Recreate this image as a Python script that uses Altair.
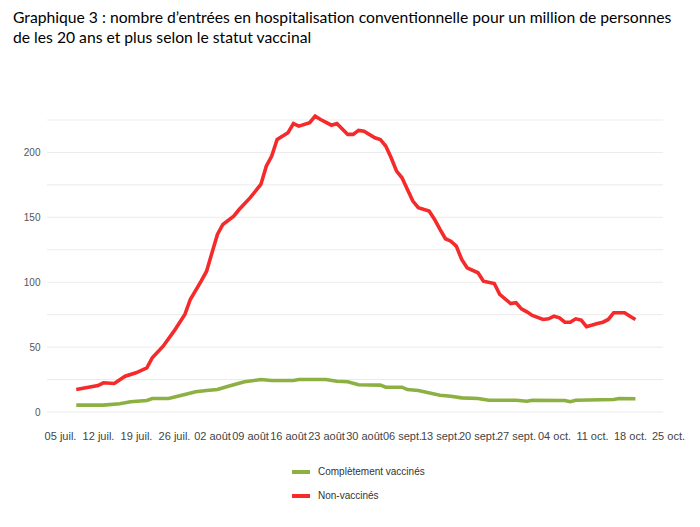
import altair as alt
import pandas as pd

# ---- data ----
red_dates = ["2021-07-08", "2021-07-12", "2021-07-13", "2021-07-15", "2021-07-17", "2021-07-19",
             "2021-07-21", "2021-07-22", "2021-07-24", "2021-07-26", "2021-07-28", "2021-07-29",
             "2021-07-31", "2021-08-01", "2021-08-02", "2021-08-03", "2021-08-04", "2021-08-06",
             "2021-08-07", "2021-08-09", "2021-08-11", "2021-08-12", "2021-08-13", "2021-08-14",
             "2021-08-16", "2021-08-17", "2021-08-18", "2021-08-20", "2021-08-21", "2021-08-22",
             "2021-08-24", "2021-08-25", "2021-08-27", "2021-08-28", "2021-08-29", "2021-08-30",
             "2021-09-01", "2021-09-02", "2021-09-03", "2021-09-04", "2021-09-05", "2021-09-06",
             "2021-09-07", "2021-09-08", "2021-09-09", "2021-09-11", "2021-09-12", "2021-09-13",
             "2021-09-14", "2021-09-15", "2021-09-16", "2021-09-17", "2021-09-18", "2021-09-20",
             "2021-09-21", "2021-09-23", "2021-09-24", "2021-09-26", "2021-09-27", "2021-09-28",
             "2021-09-29", "2021-09-30", "2021-10-02", "2021-10-03", "2021-10-04", "2021-10-05",
             "2021-10-06", "2021-10-07", "2021-10-08", "2021-10-09", "2021-10-10", "2021-10-12",
             "2021-10-13", "2021-10-14", "2021-10-15", "2021-10-17", "2021-10-18", "2021-10-19"]
red_values = [17.3, 20.4, 22.5, 22.0, 27.6, 30.2,
              34.0, 41.8, 50.7, 62.3, 75.1, 86.7,
              100.8, 108.5, 122.7, 136.8, 144.5, 150.9,
              156.0, 165.0, 175.3, 189.4, 197.2, 210.0,
              215.2, 222.3, 220.3, 222.9, 228.0, 225.4,
              221.0, 222.3, 213.9, 213.9, 217.0, 216.4,
              211.3, 210.0, 204.9, 195.9, 185.6, 180.5,
              171.5, 162.5, 157.4, 154.8, 148.4, 140.7,
              133.5, 131.6, 127.8, 117.5, 111.1, 107.3,
              100.8, 99.0, 90.6, 83.6, 84.2, 79.5,
              77.2, 74.4, 71.3, 71.8, 73.8, 72.6,
              69.2, 69.2, 71.8, 70.8, 65.7, 68.2,
              69.2, 71.3, 76.5, 76.5, 73.8, 71.3]

green_dates = ["2021-07-08", "2021-07-13", "2021-07-16", "2021-07-18", "2021-07-21", "2021-07-22",
               "2021-07-25", "2021-07-28", "2021-07-30", "2021-08-01", "2021-08-03", "2021-08-05",
               "2021-08-08", "2021-08-11", "2021-08-13", "2021-08-17", "2021-08-18", "2021-08-23",
               "2021-08-25", "2021-08-27", "2021-08-29", "2021-09-02", "2021-09-03", "2021-09-06",
               "2021-09-07", "2021-09-09", "2021-09-13", "2021-09-15", "2021-09-17", "2021-09-20",
               "2021-09-22", "2021-09-27", "2021-09-29", "2021-09-30", "2021-10-06", "2021-10-07",
               "2021-10-08", "2021-10-15", "2021-10-16", "2021-10-19"]
green_values = [5.3, 5.3, 6.3, 7.9, 8.9, 10.4,
                10.4, 13.5, 15.6, 16.6, 17.3, 19.9,
                23.3, 25.0, 24.3, 24.3, 25.0, 25.0,
                23.7, 23.3, 21.0, 20.7, 19.1, 19.1,
                17.3, 16.6, 12.9, 12.2, 10.9, 10.4,
                9.1, 9.1, 8.3, 9.1, 8.9, 7.9,
                9.1, 9.6, 10.4, 10.2]

series_names = ["Complètement vaccinés", "Non-vaccinés"]
series_colors = ["#8DB043", "#F52A2A"]

tick_dates = ["2021-07-05", "2021-07-12", "2021-07-19", "2021-07-26", "2021-08-02", "2021-08-09",
              "2021-08-16", "2021-08-23", "2021-08-30", "2021-09-06", "2021-09-13", "2021-09-20",
              "2021-09-27", "2021-10-04", "2021-10-11", "2021-10-18", "2021-10-25"]
month_abbr = ["janv.", "févr.", "mars", "avr.", "mai", "juin", "juil.", "août", "sept.",
              "oct.", "nov.", "déc."]

y_grid = [0, 25, 50, 75, 100, 125, 150, 175, 200, 225]

title_lines = [
    "Graphique 3 : nombre d\u2019entrées en hospitalisation conventionnelle pour un million de personnes",
    "de les 20 ans et plus selon le statut vaccinal",
]

# ---- build tables ----
df = pd.concat([
    pd.DataFrame({"date": green_dates, "valeur": green_values, "statut": series_names[0]}),
    pd.DataFrame({"date": red_dates, "valeur": red_values, "statut": series_names[1]}),
])
grid_df = pd.DataFrame({"valeur": y_grid})


def dt(s, hours=0, minutes=0):
    t = pd.Timestamp(s)
    return alt.DateTime(year=t.year, month=t.month, date=t.day, hours=hours,
                        minutes=minutes, utc=True)


tick_values = [dt(s) for s in tick_dates]
months_js = "[" + ",".join("'" + m + "'" for m in month_abbr) + "]"
x_label_expr = "utcFormat(datum.value, '%d') + ' ' + " + months_js + "[utcmonth(datum.value)]"

W, H = 624, 292
GRID_W = 616

y_enc = alt.Y("valeur:Q",
              scale=alt.Scale(domain=[0, 225], nice=False),
              axis=alt.Axis(values=y_grid, title=None, domain=False, ticks=False, tickSize=0,
                            grid=False, labelPadding=7, labelFontSize=10,
                            labelColor="#555555", labelFont="Liberation Sans",
                            labelExpr="datum.value % 50 == 0 ? datum.label : ''"))

grid = alt.Chart(grid_df).mark_rule(color="#EBEBEB", strokeWidth=1).encode(
    y=y_enc,
    x=alt.value(0),
    x2=alt.value(GRID_W),
)

lines = alt.Chart(df).mark_line(strokeWidth=3.6, interpolate="linear").encode(
    x=alt.X("date:T",
            scale=alt.Scale(domain=[dt("2021-07-02", 14, 32), dt("2021-10-25", 13, 14)]),
            axis=alt.Axis(values=tick_values, title=None, domain=False, ticks=False,
                          tickSize=0, grid=False, labelAngle=0, labelPadding=18,
                          labelFontSize=11, labelColor="#444444", labelFont="Liberation Sans",
                          labelOverlap=False, labelFlush=False, labelExpr=x_label_expr)),
    y=y_enc,
    color=alt.Color("statut:N",
                    scale=alt.Scale(domain=series_names, range=series_colors),
                    legend=alt.Legend(title=None, orient="none", legendX=243, legendY=341,
                                      direction="vertical", symbolType="stroke",
                                      symbolStrokeWidth=4, symbolSize=324, rowPadding=5,
                                      labelFontSize=10, labelColor="#333333",
                                      labelFont="Liberation Sans", labelOffset=6)),
)

chart = alt.layer(grid, lines).properties(
    width=W, height=H,
    autosize=alt.AutoSizeParams(type="none"),
    padding={"left": 39, "top": 112, "right": 21, "bottom": 107},
    title=alt.TitleParams(text=title_lines, anchor="start", frame="group", font="Lato",
                          fontSize=15.7, fontWeight="normal", color="#000000", lineHeight=20,
                          dx=-34, offset=62),
).configure_view(stroke=None)

chart.save("out.html", embed_options={"renderer": "svg", "actions": False})
